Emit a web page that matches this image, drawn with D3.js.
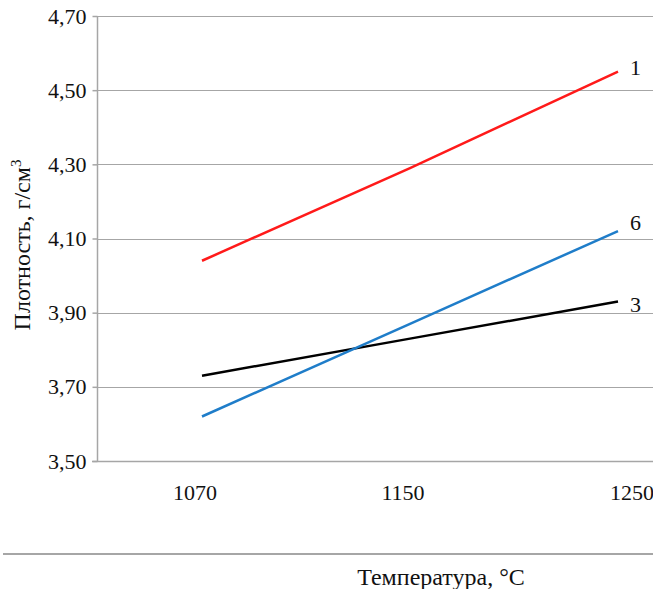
<!DOCTYPE html>
<html>
<head>
<meta charset="utf-8">
<script src="https://cdn.jsdelivr.net/npm/d3@7"></script>
<style>
  body { margin: 0; background: #fff; }
  svg { display: block; font-family: "Liberation Serif", "Times New Roman", serif; }
</style>
</head>
<body>
<svg id="chart" width="653" height="589"></svg>
<script>
// temperatures (categories)
var temps = ["1070", "1150", "1250"];
// density, g/cm3, per composition
var series1 = [4.04, 4.29, 4.55];
var series3 = [3.73, 3.83, 3.93];
var series6 = [3.62, 3.87, 4.12];
var seriesNames = ["1", "3", "6"];
var yTicks = [3.5, 3.7, 3.9, 4.1, 4.3, 4.5, 4.7];

var svg = d3.select("#chart");

var plotLeft = 97, plotTop = 16, plotBottom = 461;
var step = 208;

var x = d3.scalePoint()
    .domain(temps)
    .range([plotLeft + step / 2 + 1, plotLeft + step * 2.5 + 1]);

var y = d3.scaleLinear()
    .domain([3.5, 4.7])
    .range([plotBottom, plotTop]);

var fmt = function(d) { return d3.format(".2f")(d).replace(".", ","); };

// gridlines
svg.append("g")
    .selectAll("line")
    .data(yTicks.slice(1))
    .join("line")
    .attr("x1", plotLeft)
    .attr("x2", 653)
    .attr("y1", function(d) { return Math.round(y(d)) + 0.5; })
    .attr("y2", function(d) { return Math.round(y(d)) + 0.5; })
    .attr("stroke", "#a6a6a6")
    .attr("stroke-width", 1);

// y axis
var yAxis = svg.append("g")
    .attr("transform", "translate(" + (plotLeft + 0.5) + ",0)")
    .call(d3.axisLeft(y).tickValues(yTicks).tickFormat(fmt).tickSize(5).tickPadding(6));
yAxis.select(".domain").remove();
yAxis.append("line")
    .attr("y1", y(4.7))
    .attr("y2", y(3.5))
    .attr("stroke", "#a6a6a6")
    .attr("stroke-width", 1.5);
yAxis.selectAll(".tick line").attr("stroke", "#a6a6a6").attr("stroke-width", 1.5);
yAxis.selectAll("text")
    .attr("font-size", 22)
    .attr("font-family", "Liberation Serif")
    .attr("fill", "#111");

// x axis line
svg.append("line")
    .attr("x1", plotLeft - 5)
    .attr("x2", 653)
    .attr("y1", y(3.5) + 0.5)
    .attr("y2", y(3.5) + 0.5)
    .attr("stroke", "#a6a6a6")
    .attr("stroke-width", 1.5);

// x tick labels
svg.append("g")
    .selectAll("text")
    .data(temps)
    .join("text")
    .attr("x", function(d) { return x(d); })
    .attr("dx", function(d, i) { return i === temps.length - 1 ? 14 : -7; })
    .attr("y", 500)
    .attr("text-anchor", "middle")
    .attr("font-size", 22)
    .attr("fill", "#111")
    .text(function(d) { return d; });

// lines
var lineGen = d3.line()
    .x(function(d, i) { return x(temps[i]); })
    .y(function(d) { return y(d); });

var allSeries = [series1, series3, series6];
var colors = ["#ff1a1a", "#000000", "#1f7dc9"];
var labelDy = [3, 10, -1];

svg.append("g")
    .selectAll("path")
    .data(allSeries)
    .join("path")
    .attr("d", lineGen)
    .attr("fill", "none")
    .attr("stroke", function(d, i) { return colors[i]; })
    .attr("stroke-width", 2.5);

svg.append("g")
    .selectAll("text")
    .data(allSeries)
    .join("text")
    .attr("x", function(d) { return x(temps[temps.length - 1]) + 12; })
    .attr("y", function(d, i) { return y(d[d.length - 1]) + labelDy[i]; })
    .attr("font-size", 22)
    .attr("fill", "#111")
    .text(function(d, i) { return seriesNames[i]; });

// y axis title
var yt = svg.append("text")
    .attr("transform", "translate(30,245) rotate(-90)")
    .attr("text-anchor", "middle")
    .attr("font-size", 24)
    .attr("fill", "#111");
yt.append("tspan").text("Плотность, г/см");
yt.append("tspan").attr("font-size", 15).attr("dy", -9).text("3");

// separator line
svg.append("line")
    .attr("x1", 3)
    .attr("x2", 653)
    .attr("y1", 554)
    .attr("y2", 554)
    .attr("stroke", "#a6a6a6")
    .attr("stroke-width", 2);

// x axis title
svg.append("text")
    .attr("x", 441)
    .attr("y", 585)
    .attr("text-anchor", "middle")
    .attr("font-size", 24)
    .attr("fill", "#111")
    .text("Температура, °С");
</script>
</body>
</html>
